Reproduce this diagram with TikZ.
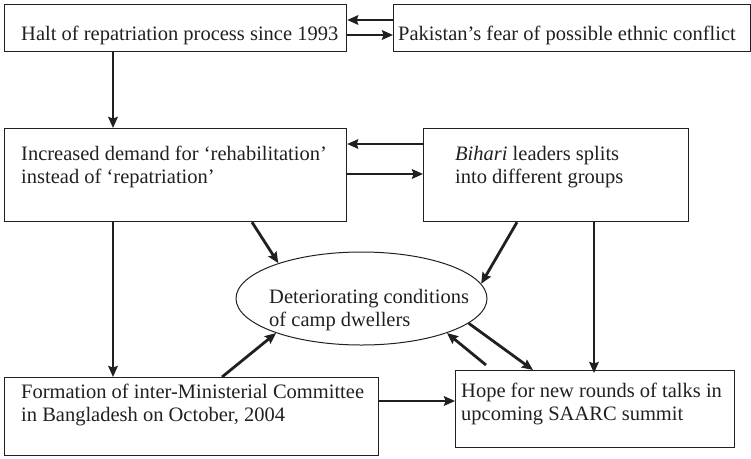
\documentclass[tikz,border=0pt]{standalone}
\usepackage{fontspec}
\setmainfont{Liberation Serif}
\usetikzlibrary{arrows.meta,shapes.geometric}
\definecolor{ink}{RGB}{35,31,32}
\tikzset{
  box/.style={draw=ink,line width=1.2pt,rectangle,inner sep=0pt,anchor=north west},
  txt/.style={anchor=north west,inner sep=0pt,align=left,text=ink,font=\fontsize{20.5}{23}\selectfont},
  conn/.style={draw=ink,line width=2.8pt,-{Stealth[length=11pt,width=9.5pt,inset=1.5pt]}},
}
\begin{document}
\begin{tikzpicture}[x=1pt,y=-1pt]
\useasboundingbox (0,0) rectangle (751,458);
% boxes
\node[box,minimum width=342pt,minimum height=47pt] (b1) at (4,4) {};
\node[box,minimum width=356.5pt,minimum height=47pt] (b2) at (393,4) {};
\node[box,minimum width=342pt,minimum height=93pt] (b3) at (4,128) {};
\node[box,minimum width=265pt,minimum height=93pt] (b4) at (423,128) {};
\node[draw=ink,line width=1pt,ellipse,minimum width=251pt,minimum height=93pt,inner sep=0pt] (ell) at (361.5,298.5) {};
\node[box,minimum width=374pt,minimum height=78pt] (b6) at (4,377) {};
\node[box,minimum width=279pt,minimum height=77pt] (b7) at (455,370) {};
% texts
\node[txt] (t1) at (21,{40-16.1}) {\strut Halt of repatriation process since 1993};
\node[txt] (t2) at (398,{40-16.1}) {\strut Pakistan’s fear of possible ethnic conflict};
\node[txt] (t3) at (21,{160-16.1}) {\strut Increased demand for ‘rehabilitation’\\\strut instead of ‘repatriation’};
\node[txt] (t4) at (455,{160-16.1}) {\strut\textit{Bihari} leaders splits\\\strut into different groups};
\node[txt] (t5) at (269,{303-16.1}) {\strut Deteriorating conditions\\\strut of camp dwellers};
\node[txt] (t6) at (21,{398-16.1}) {\strut Formation of inter-Ministerial Committee\\\strut in Bangladesh on October, 2004};
\node[txt] (t7) at (461,{397-16.1}) {\strut Hope for new rounds of talks in\\\strut upcoming SAARC summit};
% connectors
\draw[conn] ([yshift=-16pt]b2.north west) -- ([yshift=-16pt]b1.north east);
\draw[conn] ([yshift=-31pt]b1.north east) -- ([yshift=-31pt]b2.north west);
\draw[conn] ([xshift=109pt]b1.south west) -- ([xshift=109pt]b3.north west);
\draw[conn] ([yshift=-16pt]b4.north west) -- ([yshift=-16pt]b3.north east);
\draw[conn] ([yshift=-46pt]b3.north east) -- ([yshift=-46pt]b4.north west);
\draw[conn] ([xshift=109pt]b3.south west) -- ([xshift=109pt]b6.north west);
\draw[conn] ([xshift=248pt]b3.south west) -- (ell.157.5);
\draw[conn] ([xshift=94pt]b4.south west) -- (ell.7.5);
\draw[conn] ([xshift=171pt]b4.south west) -- ([xshift=139pt,yshift=-3pt]b7.north west);
\draw[conn] (ell.-13) -- ([xshift=78pt]b7.north west);
\draw[conn] ([xshift=31pt,yshift=5pt]b7.north west) -- (ell.-22);
\draw[conn] ([xshift=218pt]b6.north west) -- (ell.202);
\draw[conn] ([yshift=-24pt]b6.north east) -- ([yshift=-31pt]b7.north west);
\end{tikzpicture}
\end{document}
